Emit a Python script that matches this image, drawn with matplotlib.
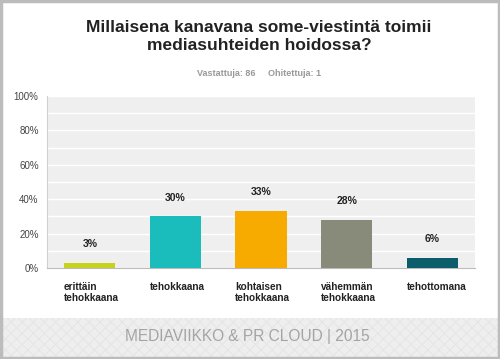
import matplotlib
matplotlib.use("Agg")
import matplotlib.pyplot as plt
from matplotlib.patches import Rectangle

plt.rcParams['font.family'] = ['Liberation Sans', 'DejaVu Sans']
plt.rcParams['hatch.linewidth'] = 0.6

categories = ["erittäin\ntehokkaana", "tehokkaana", "kohtaisen\ntehokkaana",
              "vähemmän\ntehokkaana", "tehottomana"]
values = [3, 30, 33, 28, 6]
colors = ["#c6d21c", "#1bbcbc", "#f7ab00", "#898b7a", "#0c5d6c"]
yticks = [0, 20, 40, 60, 80, 100]
title = "Millaisena kanavana some-viestintä toimii\nmediasuhteiden hoidossa?"
subtitle = "Vastattuja: 86     Ohitettuja: 1"
footer = "MEDIAVIIKKO & PR CLOUD | 2015"

fig = plt.figure(figsize=(5, 3.59), dpi=100)
fig.patch.set_facecolor("white")

# footer band
fig.patches.append(Rectangle((0, 0), 1, 1 - 318/359, transform=fig.transFigure,
                             facecolor="#eeeeee", edgecolor="#e4e4e4", hatch="xxx",
                             linewidth=0, zorder=0))
# border
fig.patches.append(Rectangle((0.002, 0.003), 0.996, 0.994, transform=fig.transFigure,
                             facecolor="none", edgecolor="#bcbcbc", linewidth=2.5, zorder=5))

ax = fig.add_axes([47/500, 1 - 268/359, 428/500, 172/359])
ax.set_facecolor("#efefef")
x = list(range(len(categories)))
bars = ax.bar(x, values, width=0.6, color=colors, zorder=3)
ax.set_xlim(-0.5, len(categories) - 0.5)
ax.set_ylim(0, 100)
ax.set_yticks(yticks)
ax.set_yticklabels([f"{t}%" for t in yticks], fontsize=7, color="#444444")
ax.set_yticks(range(0, 101, 10), minor=True)
ax.grid(axis="y", which="both", color="white", linewidth=1, zorder=1)
ax.tick_params(axis="y", which="both", length=0, pad=6)
ax.set_xticks([])
for s in ["top", "right"]:
    ax.spines[s].set_visible(False)
ax.spines["left"].set_color("#d0d0d0")
ax.spines["bottom"].set_color("#bbbbbb")

for xi, v in zip(x, values):
    ax.annotate(f"{v}%", (xi, v), xytext=(0, 10), textcoords="offset points",
                ha="center", va="bottom", fontsize=7.5, fontweight="bold", color="#222222")

for xi, lab in zip(x, categories):
    ax.annotate(lab, (xi - 0.3, 0), xytext=(0, -10), textcoords="offset points",
                ha="left", va="top", fontsize=7.2, fontweight="bold", color="#222222",
                linespacing=1.1)

fig.text(259/500, 1 - 37/359, title, ha="center", va="center", fontsize=12.5,
         fontweight="bold", color="#222222", linespacing=1.25)
fig.text(259/500, 1 - 73/359, subtitle, ha="center", va="center", fontsize=6.5,
         fontweight="bold", color="#999999")
fig.text(247/500, 1 - 337/359, footer, ha="center", va="center", fontsize=11.2,
         color="#a4a4a4")

fig.savefig("out.png", dpi=100)
